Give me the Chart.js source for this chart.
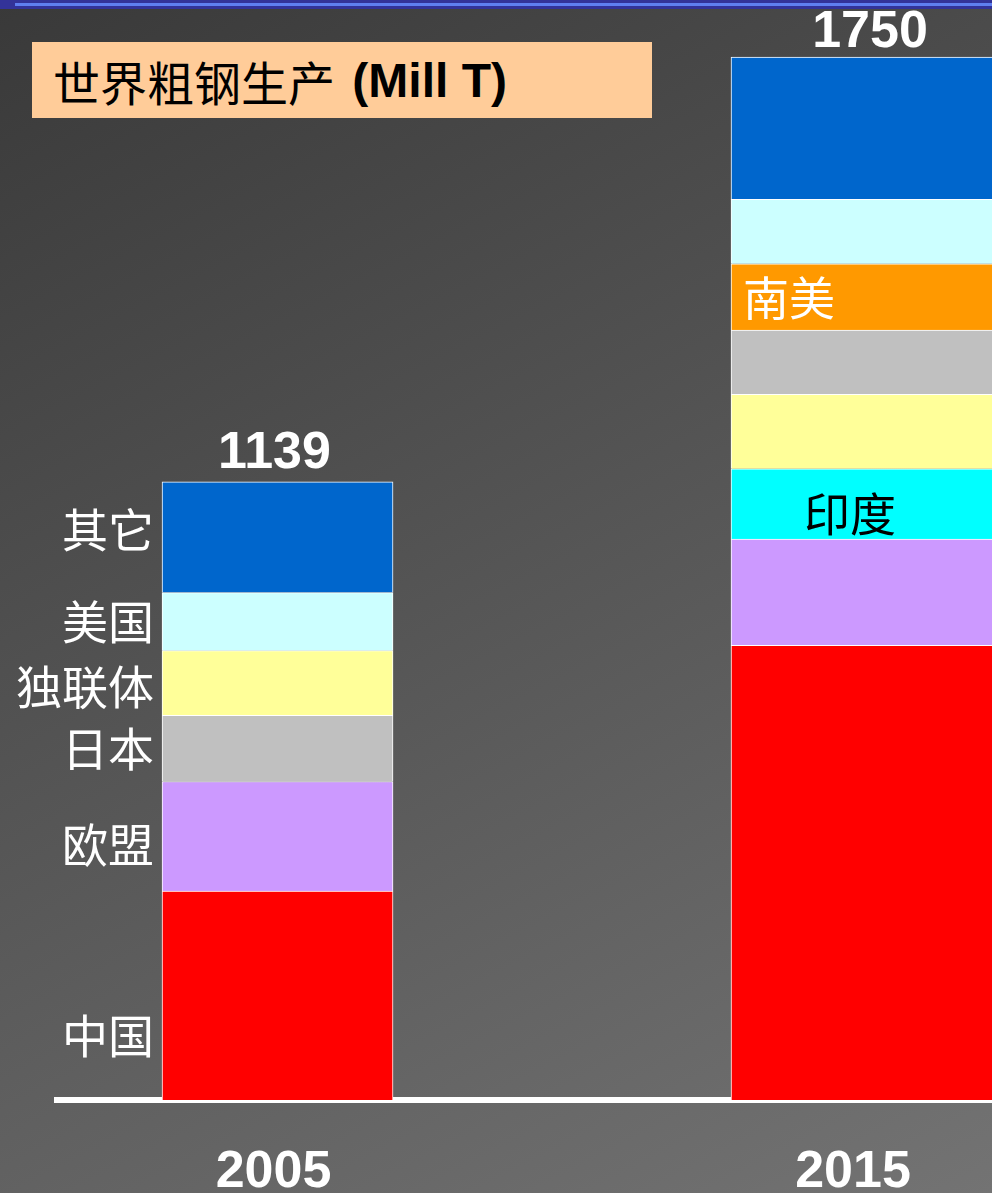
<!DOCTYPE html>
<html>
<head>
<meta charset="utf-8">
<script src="https://cdn.jsdelivr.net/npm/chart.js@4/dist/chart.umd.min.js"></script>
<style>
  html, body {
    margin: 0;
    width: 992px;
    height: 1193px;
    overflow: hidden;
  }
  body {
    position: relative;
    background: linear-gradient(153deg, #393939 0%, #737373 100%);
  }
  #topBand {
    position: absolute;
    left: 0; top: 0;
    width: 992px; height: 9px;
    background: #333399;
  }
  #topBand div {
    position: absolute;
    left: 15px; right: 0; top: 3px;
    height: 3px;
    background: #5f7ff0;
  }
  #steelChart {
    position: absolute;
    left: 0; top: 0;
  }
  #titleBox {
    position: absolute;
    left: 32px; top: 42px;
    width: 620px; height: 76px;
    background: #ffcc99;
    display: flex;
    align-items: center;
    box-sizing: border-box;
    padding-left: 21px;
    color: #000;
    white-space: nowrap;
  }
  #titleBox .cn { font: 47px "Noto Sans CJK SC"; }
  #titleBox .en { font: bold 48px "Liberation Sans", Arial, sans-serif; margin-left: 4px; }
</style>
</head>
<body>
<div id="topBand"><div></div></div>
<canvas id="steelChart" width="992" height="1193"></canvas>
<div id="titleBox"><span class="cn">世界粗钢生产</span><span class="en">&nbsp;(Mill T)</span></div>

<script>
const ctx = document.getElementById('steelChart');

const years = ['2005', '2015'];
const totals = [1139, 1750];

// bottom to top, as stacked in each bar
const regions2005 = ['中国', '欧盟', '日本', '独联体', '美国', '其它'];
const values2005 = [385, 202, 122, 119, 107, 204];

const regions2015 = ['中国', '欧盟', '印度', '独联体', '日本', '南美', '美国', '其它'];
const values2015 = [763, 178, 118, 125, 108, 111, 108, 239];

const colors = {
  '中国': '#ff0000',
  '欧盟': '#cc99ff',
  '日本': '#c0c0c0',
  '独联体': '#ffff99',
  '美国': '#ccffff',
  '其它': '#0066cc',
  '印度': '#00ffff',
  '南美': '#ff9900',
};

const cjkFont = '46px "Noto Sans CJK SC"';
const numFont = 'bold 52px "Liberation Sans", Arial, sans-serif';

const makeSets = function (regions, values, yearIndex) {
  return regions.map((name, i) => ({
    label: name,
    year: yearIndex,
    data: [{ x: yearIndex, y: values[i] }],
    backgroundColor: colors[name],
    borderColor: '#ffffff',
    borderWidth: 1,
    borderSkipped: 'start',
    barThickness: yearIndex === 0 ? 231 : 278,
    yAxisID: yearIndex === 0 ? 'y05' : 'y15',
    clip: false,
  }));
};

const datasets = [
  ...makeSets(regions2005, values2005, 0),
  ...makeSets(regions2015, values2015, 1),
];

// text next to / inside the bars, totals and years
const labelPlugin = {
  id: 'steelLabels',
  afterDatasetsDraw(chart) {
    const c = chart.ctx;
    c.save();
    c.textBaseline = 'middle';
    c.font = cjkFont;

    const topBar = [null, null];
    chart.data.datasets.forEach((ds, i) => {
      const bar = chart.getDatasetMeta(i).data[0];
      if (!bar) return;
      topBar[ds.year] = bar;
      const midY = (bar.y + bar.base) / 2;

      if (ds.year === 0) {
        const shift = { '中国': 40, '欧盟': 8, '其它': -8, '独联体': 4 }[ds.label] || 0;
        c.fillStyle = '#ffffff';
        c.textAlign = 'right';
        c.fillText(ds.label, bar.x - bar.width / 2 - 8, midY + shift);
      } else if (ds.label === '南美') {
        c.fillStyle = '#ffffff';
        c.textAlign = 'left';
        c.fillText(ds.label, bar.x - bar.width / 2 + 12, midY + 1);
      } else if (ds.label === '印度') {
        c.fillStyle = '#000000';
        c.textAlign = 'center';
        c.fillText(ds.label, bar.x - 20, midY + 10);
      }
    });

    c.font = numFont;
    c.fillStyle = '#ffffff';
    c.textAlign = 'center';
    c.textBaseline = 'alphabetic';
    const yearShift = [-4, -17];
    const totalGap = [14, 10];
    topBar.forEach((bar, k) => {
      c.fillText(String(totals[k]), bar.x - (k === 0 ? 3 : 0), bar.y - totalGap[k]);
      c.fillText(years[k], bar.x + yearShift[k], 1187);
    });
    c.restore();
  },
};

const chart = new Chart(ctx, {
  type: 'bar',
  data: { datasets },
  plugins: [labelPlugin],
  options: {
    responsive: false,
    animation: false,
    layout: { padding: { left: 57, right: 0, top: 57, bottom: 93 } },
    plugins: {
      legend: { display: false },
      tooltip: { enabled: false },
    },
    scales: {
      x: {
        type: 'linear',
        stacked: true,
        offset: false,
        min: -0.3722,
        max: 1.2059,
        z: 1,
        ticks: { display: false },
        grid: { display: false, drawTicks: false, offset: false },
        border: { display: true, color: '#ffffff', width: 6 },
      },
      y05: {
        position: 'left',
        stacked: true,
        display: false,
        min: 0,
        max: 1922,
      },
      y15: {
        position: 'left',
        stacked: true,
        display: false,
        min: 0,
        max: 1750,
      },
    },
  },
});
</script>
</body>
</html>
